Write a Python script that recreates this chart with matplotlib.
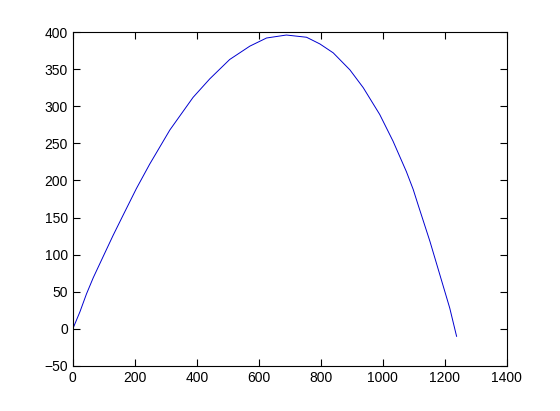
import matplotlib
matplotlib.use('Agg')
import matplotlib.pyplot as plt

# values
x = [0, 23, 44, 66, 103, 130, 162, 205, 248, 265, 313, 388, 442, 506, 571, 625,
     689, 754, 797, 840, 894, 937, 990, 1033, 1076, 1098, 1114, 1152, 1184, 1216, 1238]
y = [0, 23, 47, 69, 102, 126, 153, 189, 222, 234, 268, 312, 337, 363, 381, 392,
     396, 393, 384, 372, 349, 325, 289, 253, 212, 188, 167, 118, 73, 28, -10]

xticks = [0, 200, 400, 600, 800, 1000, 1200, 1400]
yticks = [-50, 0, 50, 100, 150, 200, 250, 300, 350, 400]

plt.rcParams['font.family'] = ['Liberation Sans', 'DejaVu Sans']

fig = plt.figure(figsize=(5.6, 4.11), dpi=100)
ax = fig.add_axes([0.13, 0.1095, 0.775, 0.8125])

ax.plot(x, y, color='#0000d0', linewidth=0.7)

ax.set_xlim(0, 1400)
ax.set_ylim(-50, 400)
ax.set_xticks(xticks)
ax.set_yticks(yticks)
ax.tick_params(direction='in', length=5, width=0.8, top=True, right=True, labelsize=10)
for s in ax.spines.values():
    s.set_linewidth(0.8)

fig.savefig('out.png', dpi=100)
